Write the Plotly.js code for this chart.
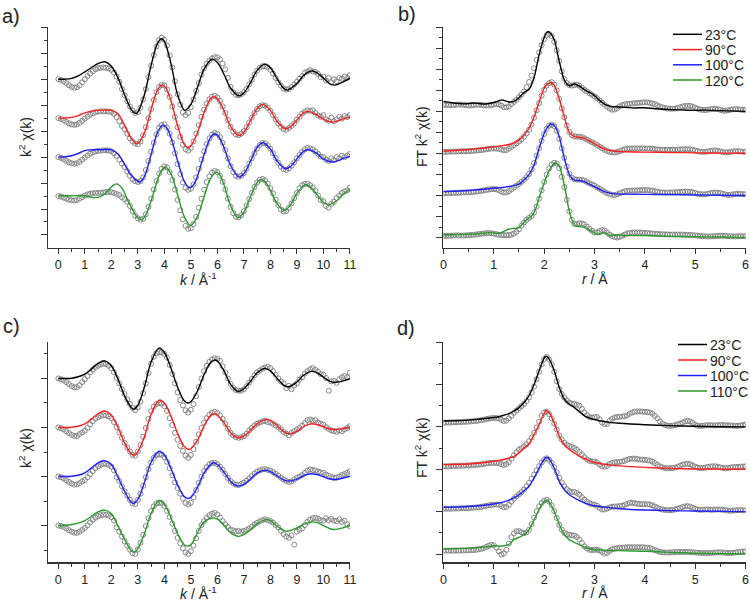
<!DOCTYPE html>
<html>
<head>
<meta charset="utf-8">
<script src="https://cdn.plot.ly/plotly-3.0.1.min.js"></script>
<style>
html,body{margin:0;padding:0;background:#fff;}
#chart{width:750px;height:602px;}
</style>
</head>
<body>
<div id="chart"></div>
<script>
// ---------- labels ----------
const labelsTop = ['23°C', '90°C', '100°C', '120°C'];
const labelsBottom = ['23°C', '90°C', '100°C', '110°C'];

// vertical stacking of the four temperatures in each panel (axis units)
const stackA = [6, 4.5, 3, 1.5];
const stackB = [12, 8, 4, 0];
const stackC = [7, 5, 3, 1];
const stackD = [6, 4, 2, 0];

// measured k2*chi(k), sampled every 0.1 A^-1 from k = 0 to 11
const aData23 = [
 0,-0.03,-0.08,-0.15,-0.23,-0.3,-0.33,-0.31,-0.24,-0.12,
 0,0.12,0.22,0.31,0.38,0.42,0.44,0.45,0.44,0.41,
 0.36,0.25,0.1,-0.1,-0.38,-0.62,-0.85,-1.05,-1.2,-1.3,
 -1.27,-1.1,-0.78,-0.38,0.08,0.52,0.93,1.26,1.5,1.6,
 1.52,1.3,0.92,0.45,-0.08,-0.58,-0.98,-1.27,-1.38,-1.3,
 -1.08,-0.78,-0.45,-0.15,0.18,0.42,0.6,0.72,0.8,0.85,
 0.84,0.76,0.6,0.38,0.05,-0.3,-0.5,-0.6,-0.62,-0.58,
 -0.5,-0.38,-0.2,-0.02,0.18,0.33,0.44,0.5,0.5,0.46,
 0.36,0.22,0.05,-0.12,-0.25,-0.36,-0.4,-0.38,-0.3,-0.2,
 -0.1,0.02,0.12,0.25,0.3,0.35,0.3,0.28,0.2,0.08,
 0.1,-0.05,0.05,-0.12,0,-0.08,0.05,0.02,0.1,0.05,
 0.15];
const aData90 = [
 0,-0.03,-0.08,-0.14,-0.2,-0.24,-0.26,-0.24,-0.18,-0.1,
 -0.02,0.06,0.13,0.19,0.23,0.25,0.26,0.26,0.26,0.25,
 0.24,0.16,0.04,-0.12,-0.3,-0.42,-0.6,-0.78,-0.9,-0.98,
 -1,-0.9,-0.66,-0.35,0,0.35,0.7,1,1.2,1.28,
 1.26,1.1,0.82,0.45,0.05,-0.35,-0.72,-1.02,-1.2,-1.25,
 -1.15,-0.9,-0.6,-0.27,0.05,0.33,0.56,0.73,0.83,0.86,
 0.8,0.66,0.45,0.2,-0.07,-0.33,-0.52,-0.63,-0.66,-0.6,
 -0.5,-0.35,-0.17,0.02,0.2,0.35,0.46,0.5,0.48,0.4,
 0.28,0.12,-0.05,-0.2,-0.33,-0.42,-0.45,-0.38,-0.3,-0.2,
 -0.06,0.05,0.18,0.25,0.3,0.28,0.3,0.2,0.1,0.05,
 0.12,-0.05,-0.1,0.02,-0.12,-0.05,0.05,-0.02,0.08,0.04,
 0.12];
const aData100 = [
 0,-0.03,-0.08,-0.14,-0.2,-0.24,-0.26,-0.24,-0.18,-0.1,
 -0.02,0.06,0.13,0.18,0.22,0.24,0.25,0.26,0.26,0.25,
 0.23,0.15,0.04,-0.1,-0.25,-0.38,-0.55,-0.72,-0.85,-0.93,
 -0.96,-0.93,-0.78,-0.5,-0.15,0.2,0.55,0.88,1.12,1.24,
 1.26,1.14,0.9,0.56,0.15,-0.27,-0.65,-0.98,-1.18,-1.26,
 -1.22,-1.05,-0.78,-0.45,-0.1,0.22,0.5,0.72,0.87,0.93,
 0.9,0.77,0.55,0.27,-0.05,-0.35,-0.58,-0.72,-0.76,-0.72,
 -0.62,-0.45,-0.25,-0.05,0.15,0.33,0.47,0.54,0.53,0.45,
 0.32,0.15,-0.04,-0.22,-0.37,-0.47,-0.5,-0.44,-0.33,-0.2,
 -0.05,0.08,0.2,0.3,0.35,0.33,0.3,0.22,0.12,0.02,
 0,-0.1,-0.15,-0.05,-0.12,0,-0.05,0.05,0,0.06,
 0.12];
const aData120 = [
 0,-0.02,-0.06,-0.1,-0.14,-0.16,-0.17,-0.15,-0.1,-0.04,
 0.02,0.06,0.09,0.11,0.12,0.12,0.13,0.14,0.15,0.16,
 0.15,0.12,0.08,0.04,-0.05,-0.12,-0.22,-0.38,-0.58,-0.75,
 -0.86,-0.91,-0.88,-0.7,-0.42,-0.1,0.25,0.58,0.86,1.05,
 1.14,1.1,0.92,0.62,0.25,-0.15,-0.55,-0.9,-1.15,-1.26,
 -1.24,-1.08,-0.8,-0.45,-0.1,0.25,0.54,0.76,0.9,0.96,
 0.92,0.78,0.55,0.25,-0.1,-0.42,-0.66,-0.8,-0.82,-0.74,
 -0.58,-0.36,-0.12,0.12,0.35,0.52,0.63,0.66,0.6,0.48,
 0.3,0.1,-0.14,-0.35,-0.52,-0.6,-0.58,-0.45,-0.28,-0.08,
 0.12,0.3,0.42,0.46,0.48,0.42,0.33,0.2,0.02,-0.15,
 -0.2,-0.38,-0.45,-0.3,-0.22,-0.08,0.02,0.12,0.18,0.22,
 0.32];

const cData23 = [
 0,-0.03,-0.08,-0.15,-0.23,-0.31,-0.36,-0.36,-0.28,-0.15,
 -0.03,0.1,0.25,0.36,0.46,0.52,0.57,0.6,0.59,0.52,
 0.42,0.25,0.02,-0.2,-0.43,-0.64,-0.85,-1.04,-1.2,-1.29,
 -1.18,-0.95,-0.6,-0.2,0.22,0.6,0.88,1.03,1.07,1.07,
 1,0.85,0.55,0.18,-0.2,-0.57,-0.88,-1.1,-1.3,-1.39,
 -1.28,-1.05,-0.72,-0.35,0,0.3,0.52,0.68,0.78,0.83,
 0.8,0.72,0.5,0.25,0,-0.22,-0.38,-0.47,-0.5,-0.5,
 -0.44,-0.32,-0.17,-0.02,0.13,0.25,0.33,0.4,0.45,0.48,
 0.42,0.3,0.15,0,-0.12,-0.2,-0.4,-0.3,-0.44,-0.28,
 -0.2,-0.05,0.05,0.2,0.3,0.38,0.42,0.35,0.28,0.18,
 0.15,0.02,-0.5,-0.12,-0.1,-0.18,-0.03,0.05,0.1,0.05,
 0.24];
const cData90 = [
 0,-0.03,-0.08,-0.15,-0.23,-0.3,-0.35,-0.34,-0.27,-0.2,
 -0.13,-0.02,0.13,0.25,0.36,0.42,0.47,0.5,0.49,0.45,
 0.38,0.22,0.02,-0.2,-0.42,-0.63,-0.82,-0.98,-1.12,-1.15,
 -0.98,-0.72,-0.38,-0.02,0.35,0.66,0.85,0.96,0.99,0.97,
 0.87,0.68,0.38,0.1,-0.22,-0.5,-0.75,-0.95,-1.15,-1.24,
 -1.12,-0.88,-0.58,-0.28,-0.02,0.2,0.38,0.52,0.6,0.64,
 0.6,0.5,0.35,0.15,-0.05,-0.22,-0.33,-0.4,-0.42,-0.4,
 -0.35,-0.25,-0.12,-0.02,0.08,0.15,0.2,0.25,0.27,0.22,
 0.2,0.15,0.08,0.02,-0.08,-0.18,-0.25,-0.32,-0.22,-0.15,
 -0.08,-0.02,0.08,0.18,0.3,0.33,0.28,0.3,0.2,0.15,
 0.12,0.02,-0.06,-0.12,-0.15,-0.18,-0.12,-0.15,-0.08,-0.02,
 0.05];
const cData100 = [
 0,-0.03,-0.08,-0.15,-0.22,-0.28,-0.33,-0.32,-0.27,-0.2,
 -0.14,-0.03,0.1,0.22,0.34,0.42,0.48,0.52,0.51,0.47,
 0.4,0.25,-0.03,-0.18,-0.4,-0.6,-0.78,-0.95,-1.1,-1.12,
 -0.95,-0.7,-0.38,-0.03,0.3,0.57,0.76,0.87,0.9,0.89,
 0.79,0.6,0.34,0.05,-0.24,-0.47,-0.7,-0.9,-1.08,-1.14,
 -1.07,-0.85,-0.55,-0.25,0,0.22,0.38,0.5,0.55,0.56,
 0.5,0.4,0.27,0.1,-0.06,-0.19,-0.28,-0.33,-0.35,-0.3,
 -0.25,-0.17,-0.08,0.02,0.12,0.2,0.25,0.29,0.3,0.27,
 0.24,0.18,0.11,0.04,-0.05,-0.12,-0.18,-0.22,-0.2,-0.12,
 -0.05,0,0.06,0.15,0.24,0.29,0.26,0.25,0.2,0.17,
 0.15,0.08,0.03,-0.02,-0.05,-0.05,0,0.06,0.1,0.15,
 0.22];
const cData110 = [
 0,-0.02,-0.06,-0.12,-0.19,-0.25,-0.29,-0.3,-0.25,-0.18,
 -0.1,0,0.13,0.23,0.32,0.38,0.42,0.45,0.44,0.4,
 0.34,0.2,-0.07,-0.25,-0.45,-0.64,-0.82,-0.98,-1.13,-1.16,
 -0.98,-0.7,-0.38,-0.02,0.3,0.59,0.78,0.9,0.93,0.92,
 0.79,0.6,0.35,0.08,-0.22,-0.5,-0.73,-0.93,-1.1,-1.16,
 -1.05,-0.82,-0.52,-0.22,0.02,0.18,0.32,0.42,0.48,0.52,
 0.45,0.33,0.18,0.05,-0.06,-0.16,-0.2,-0.24,-0.22,-0.25,
 -0.22,-0.18,-0.12,-0.05,0.05,0.11,0.17,0.22,0.25,0.22,
 0.18,0.12,0.02,-0.08,-0.22,-0.35,-0.45,-0.5,-0.4,-0.78,
 -0.25,-0.18,-0.12,0.02,0.15,0.24,0.3,0.32,0.28,0.22,
 0.2,0.3,0.22,0.27,0.2,0.18,0.25,0.15,0.2,0.05,
 -0.03];

// fitted k2*chi(k) curves as [k, value] pairs
const aFit23 = [[0,0],[0.25,0],[0.5,0.03],[0.75,0.13],[1,0.28],[1.25,0.45],[1.5,0.6],[1.75,0.67],[2,0.5],[2.25,0.05],[2.5,-0.6],[2.75,-1.16],[2.92,-1.32],[3,-1.27],[3.25,-0.59],[3.5,0.53],[3.75,1.4],[3.9,1.56],[4,1.47],[4.25,0.6],[4.5,-0.6],[4.77,-1.2],[5,-0.97],[5.25,-0.32],[5.5,0.39],[5.8,0.77],[6,0.64],[6.25,0.19],[6.5,-0.34],[6.81,-0.64],[7,-0.53],[7.25,-0.13],[7.5,0.34],[7.79,0.58],[8,0.44],[8.25,0.02],[8.5,-0.35],[8.64,-0.42],[9,-0.17],[9.25,0.14],[9.55,0.32],[9.75,0.25],[10,0.04],[10.25,-0.18],[10.43,-0.23],[10.75,-0.1],[11,0.04]];
const aFit90 = [[0,0],[0.25,0.01],[0.5,0.03],[0.75,0.1],[1,0.2],[1.25,0.27],[1.5,0.3],[1.75,0.31],[2,0.3],[2.25,0.17],[2.5,-0.28],[2.75,-0.78],[2.98,-0.99],[3.25,-0.56],[3.5,0.33],[3.75,1.1],[3.92,1.28],[4.05,1.18],[4.25,0.66],[4.5,-0.29],[4.75,-1.01],[4.89,-1.13],[5,-1.07],[5.25,-0.55],[5.5,0.22],[5.75,0.76],[5.87,0.83],[6,0.76],[6.25,0.29],[6.5,-0.32],[6.8,-0.67],[7,-0.54],[7.25,-0.09],[7.5,0.37],[7.72,0.53],[8,0.3],[8.25,-0.12],[8.57,-0.41],[8.75,-0.34],[9,-0.07],[9.25,0.2],[9.42,0.26],[9.75,0.13],[10,-0.04],[10.3,-0.15],[10.5,-0.12],[10.75,-0.03],[11,0.03]];
const aFit100 = [[0,0],[0.25,0.01],[0.5,0.05],[0.75,0.14],[1,0.25],[1.25,0.28],[1.5,0.28],[1.75,0.29],[2,0.28],[2.25,0.12],[2.5,-0.28],[2.75,-0.7],[3.07,-0.96],[3.25,-0.74],[3.5,0.1],[3.75,0.97],[3.95,1.24],[4.1,1.11],[4.25,0.75],[4.5,-0.14],[4.75,-0.93],[4.96,-1.18],[5.1,-1.07],[5.25,-0.73],[5.5,0.1],[5.75,0.77],[5.9,0.9],[6.05,0.79],[6.25,0.37],[6.5,-0.32],[6.82,-0.77],[7,-0.64],[7.25,-0.16],[7.5,0.37],[7.72,0.55],[8,0.31],[8.25,-0.14],[8.57,-0.45],[8.75,-0.37],[9,-0.07],[9.25,0.22],[9.42,0.29],[9.75,0.14],[10,-0.07],[10.3,-0.19],[10.5,-0.15],[10.75,-0.05],[11,0.03]];
const aFit120 = [[0,0],[0.25,0.01],[0.5,0.01],[0.75,0.02],[1,0.01],[1.25,-0.05],[1.5,-0.05],[1.75,0.08],[2,0.35],[2.19,0.47],[2.4,0.31],[2.6,-0.12],[2.75,-0.43],[3,-0.85],[3.13,-0.91],[3.25,-0.82],[3.5,-0.19],[3.75,0.65],[3.9,1],[4.04,1.12],[4.25,0.86],[4.5,0.05],[4.75,-0.79],[4.99,-1.13],[5.25,-0.79],[5.5,-0.02],[5.75,0.69],[5.96,0.92],[6.1,0.8],[6.25,0.43],[6.5,-0.37],[6.78,-0.83],[7,-0.62],[7.25,-0.02],[7.5,0.51],[7.66,0.63],[7.8,0.55],[8,0.23],[8.25,-0.29],[8.52,-0.55],[8.75,-0.36],[9,0.1],[9.32,0.44],[9.5,0.36],[9.75,0.07],[10,-0.24],[10.2,-0.33],[10.5,-0.18],[10.75,0.07],[11,0.25]];

const cFit23 = [[0,0],[0.25,0],[0.5,0.01],[0.75,0.07],[1,0.18],[1.25,0.38],[1.5,0.61],[1.75,0.72],[2,0.52],[2.25,-0.03],[2.5,-0.71],[2.75,-1.18],[2.86,-1.25],[3,-1.1],[3.25,-0.34],[3.5,0.67],[3.8,1.24],[4,1.06],[4.25,0.42],[4.5,-0.36],[4.75,-0.91],[4.89,-1],[5,-0.95],[5.25,-0.51],[5.5,0.16],[5.75,0.66],[5.9,0.75],[6,0.71],[6.25,0.31],[6.5,-0.24],[6.78,-0.53],[7,-0.42],[7.25,-0.11],[7.5,0.23],[7.79,0.41],[8,0.31],[8.25,0.01],[8.5,-0.27],[8.67,-0.34],[9,-0.15],[9.25,0.13],[9.55,0.29],[9.75,0.24],[10,0.06],[10.25,-0.12],[10.43,-0.16],[10.75,-0.1],[11,-0.01]];
const cFit90 = [[0,0],[0.25,0],[0.5,0.01],[0.75,0.05],[1,0.15],[1.25,0.35],[1.5,0.56],[1.75,0.67],[2,0.5],[2.25,0],[2.5,-0.63],[2.75,-1.07],[2.88,-1.13],[3,-0.99],[3.25,-0.37],[3.5,0.54],[3.82,1.12],[4,0.99],[4.25,0.46],[4.5,-0.24],[4.75,-0.77],[4.93,-0.9],[5.25,-0.52],[5.5,0.07],[5.75,0.5],[5.87,0.56],[6,0.51],[6.25,0.2],[6.5,-0.21],[6.78,-0.42],[7,-0.35],[7.25,-0.12],[7.5,0.15],[7.85,0.33],[8,0.29],[8.25,0.08],[8.5,-0.17],[8.73,-0.26],[9,-0.16],[9.25,0.03],[9.55,0.15],[9.75,0.12],[10,0.03],[10.25,-0.06],[10.43,-0.08],[10.75,-0.04],[11,0.01]];
const cFit100 = [[0,0],[0.25,0],[0.5,0.01],[0.75,0.05],[1,0.15],[1.25,0.35],[1.5,0.56],[1.75,0.65],[2,0.49],[2.25,-0.03],[2.5,-0.6],[2.7,-0.98],[2.82,-1.1],[3,-0.93],[3.25,-0.24],[3.5,0.58],[3.8,1.03],[4,0.88],[4.25,0.33],[4.5,-0.35],[4.75,-0.82],[4.89,-0.9],[5,-0.85],[5.25,-0.44],[5.5,0.15],[5.84,0.56],[6,0.49],[6.25,0.18],[6.5,-0.2],[6.78,-0.39],[7,-0.32],[7.25,-0.1],[7.5,0.14],[7.79,0.26],[8,0.2],[8.25,0.03],[8.5,-0.14],[8.7,-0.19],[9,-0.11],[9.25,0.03],[9.55,0.11],[9.75,0.08],[10,-0.01],[10.25,-0.1],[10.43,-0.12],[10.75,-0.06],[11,0.01]];
const cFit110 = [[0,0],[0.25,0.01],[0.5,0.04],[0.75,0.1],[1,0.2],[1.25,0.38],[1.5,0.56],[1.75,0.63],[2,0.48],[2.25,-0.03],[2.5,-0.57],[2.75,-1.02],[2.86,-1.09],[3,-0.94],[3.25,-0.32],[3.5,0.49],[3.8,1.02],[4,0.87],[4.25,0.32],[4.5,-0.34],[4.75,-0.78],[4.87,-0.84],[5,-0.79],[5.25,-0.3],[5.5,0.15],[5.84,0.31],[6,0.26],[6.25,0.01],[6.5,-0.29],[6.78,-0.44],[7,-0.37],[7.25,-0.17],[7.5,0.08],[7.85,0.24],[8,0.2],[8.25,-0.02],[8.6,-0.23],[9,-0.1],[9.25,0.05],[9.6,0.15],[9.75,0.13],[10,0],[10.25,-0.13],[10.43,-0.16],[10.75,-0.09],[11,0]];

// measured FT magnitude, sampled every 0.05 A from r = 0 to 6
const bData23 = [
 0.63,0.62,0.6,0.58,0.6,0.63,0.66,0.65,0.62,0.58,
 0.56,0.57,0.6,0.63,0.64,0.62,0.58,0.56,0.57,0.6,
 0.65,0.7,0.68,0.55,0.4,0.38,0.48,0.7,0.9,1.1,
 1.35,1.6,1.9,2.3,2.8,3.4,4.1,4.9,5.6,6.3,
 6.85,7.25,7.35,7.15,6.6,5.8,4.8,3.8,3.1,2.7,
 2.5,2.45,2.5,2.55,2.45,2.25,2.05,1.9,1.72,1.58,
 1.43,1.25,1.05,0.82,0.63,0.45,0.28,0.16,0.18,0.3,
 0.48,0.6,0.66,0.7,0.72,0.75,0.78,0.8,0.82,0.84,
 0.86,0.86,0.82,0.76,0.68,0.58,0.46,0.38,0.32,0.28,
 0.26,0.25,0.27,0.32,0.4,0.47,0.52,0.54,0.52,0.45,
 0.35,0.25,0.18,0.14,0.13,0.16,0.2,0.24,0.25,0.22,
 0.15,0.08,0.06,0.1,0.16,0.2,0.22,0.2,0.17,0.14,
 0.13];
const bData90 = [
 0.16,0.16,0.17,0.18,0.18,0.19,0.2,0.21,0.21,0.22,
 0.22,0.24,0.26,0.28,0.3,0.33,0.36,0.4,0.44,0.47,
 0.48,0.47,0.44,0.37,0.32,0.33,0.45,0.62,0.8,0.96,
 1.15,1.35,1.6,1.9,2.25,2.75,3.4,4.1,4.8,5.5,
 6.05,6.45,6.7,6.78,6.55,6,5.2,4.3,3.45,2.65,
 2.05,1.75,1.62,1.6,1.6,1.55,1.45,1.33,1.2,1.08,
 0.95,0.8,0.65,0.5,0.35,0.24,0.16,0.11,0.1,0.14,
 0.22,0.32,0.4,0.45,0.47,0.48,0.48,0.48,0.48,0.48,
 0.48,0.48,0.47,0.45,0.42,0.39,0.37,0.35,0.35,0.35,
 0.35,0.36,0.37,0.38,0.39,0.4,0.41,0.41,0.4,0.35,
 0.28,0.22,0.17,0.15,0.16,0.2,0.25,0.28,0.29,0.26,
 0.2,0.14,0.1,0.11,0.15,0.2,0.22,0.22,0.2,0.17,
 0.16];
const bData100 = [
 0.22,0.22,0.23,0.24,0.25,0.26,0.27,0.28,0.29,0.3,
 0.31,0.33,0.35,0.38,0.41,0.45,0.49,0.53,0.58,0.61,
 0.63,0.6,0.52,0.4,0.3,0.3,0.42,0.6,0.78,0.95,
 1.1,1.3,1.5,1.75,2.05,2.5,3.1,3.8,4.5,5.2,
 5.85,6.35,6.65,6.75,6.6,6.15,5.4,4.5,3.6,2.75,
 2.1,1.72,1.55,1.52,1.52,1.5,1.42,1.3,1.18,1.06,
 0.95,0.8,0.65,0.5,0.36,0.24,0.14,0.08,0.06,0.12,
 0.22,0.32,0.4,0.45,0.47,0.48,0.49,0.5,0.51,0.52,
 0.52,0.52,0.5,0.46,0.41,0.36,0.32,0.3,0.29,0.29,
 0.29,0.3,0.31,0.33,0.35,0.37,0.38,0.38,0.37,0.32,
 0.25,0.18,0.14,0.12,0.13,0.18,0.24,0.28,0.29,0.28,
 0.24,0.17,0.1,0.07,0.08,0.12,0.16,0.17,0.16,0.14,
 0.13];
const bData120 = [
 0.19,0.18,0.18,0.19,0.21,0.22,0.22,0.21,0.21,0.22,
 0.24,0.26,0.28,0.31,0.34,0.37,0.4,0.43,0.44,0.42,
 0.38,0.33,0.28,0.25,0.24,0.24,0.25,0.3,0.4,0.55,
 0.8,1.15,1.45,1.7,1.88,2.05,2.4,2.95,3.7,4.5,
 5.3,6,6.6,6.95,7.12,7.05,6.6,5.8,4.8,3.6,
 2.5,1.7,1.3,1.3,1.38,1.35,1.25,1.05,0.85,0.65,
 0.5,0.5,0.62,0.72,0.68,0.5,0.3,0.15,0.05,0.02,
 0.08,0.18,0.3,0.4,0.45,0.48,0.5,0.5,0.5,0.48,
 0.46,0.44,0.42,0.4,0.38,0.36,0.34,0.33,0.32,0.31,
 0.3,0.3,0.3,0.3,0.3,0.29,0.28,0.27,0.26,0.24,
 0.22,0.19,0.16,0.14,0.13,0.12,0.12,0.13,0.15,0.17,
 0.18,0.18,0.17,0.15,0.13,0.12,0.12,0.13,0.14,0.14,
 0.13];

const dData23 = [
 0.2,0.2,0.21,0.21,0.22,0.22,0.23,0.23,0.24,0.24,
 0.25,0.26,0.27,0.28,0.3,0.32,0.34,0.37,0.39,0.41,
 0.42,0.42,0.4,0.33,0.28,0.3,0.4,0.53,0.66,0.77,
 0.88,0.98,1.08,1.22,1.39,1.62,1.9,2.25,2.6,2.95,
 3.2,3.3,3.18,2.95,2.6,2.15,1.78,1.55,1.39,1.25,
 1.15,1.1,1.08,1.05,1,0.85,0.68,0.55,0.46,0.44,
 0.46,0.46,0.36,0.2,0.14,0.14,0.28,0.38,0.44,0.47,
 0.48,0.49,0.5,0.55,0.62,0.68,0.72,0.73,0.73,0.72,
 0.71,0.7,0.68,0.62,0.52,0.4,0.26,0.16,0.09,0.06,
 0.05,0.06,0.08,0.12,0.16,0.21,0.26,0.28,0.26,0.19,
 0.1,0.05,0.04,0.05,0.07,0.08,0.08,0.07,0.07,0.08,
 0.09,0.09,0.08,0.07,0.07,0.06,0.05,0.05,0.07,0.09,
 0.1];
const dData90 = [
 0.14,0.14,0.14,0.15,0.15,0.16,0.16,0.17,0.17,0.18,
 0.18,0.19,0.2,0.21,0.22,0.23,0.25,0.27,0.29,0.3,
 0.3,0.3,0.29,0.24,0.2,0.24,0.34,0.5,0.66,0.8,
 0.92,1,1.08,1.18,1.32,1.5,1.72,1.98,2.25,2.52,
 2.68,2.72,2.6,2.4,2.15,1.88,1.6,1.4,1.25,1.15,
 1.09,1.05,1,0.92,0.82,0.7,0.57,0.47,0.4,0.37,
 0.36,0.32,0.22,0.14,0.12,0.16,0.25,0.3,0.33,0.34,
 0.35,0.37,0.4,0.45,0.49,0.5,0.5,0.48,0.46,0.45,
 0.44,0.43,0.41,0.36,0.29,0.21,0.14,0.09,0.06,0.05,
 0.05,0.06,0.08,0.12,0.17,0.22,0.25,0.26,0.24,0.18,
 0.12,0.08,0.06,0.06,0.08,0.11,0.13,0.14,0.14,0.12,
 0.09,0.06,0.05,0.06,0.08,0.1,0.11,0.11,0.12,0.13,
 0.14];
const dData100 = [
 0.14,0.14,0.14,0.14,0.15,0.15,0.15,0.16,0.16,0.17,
 0.17,0.18,0.19,0.2,0.21,0.23,0.25,0.28,0.3,0.32,
 0.33,0.34,0.33,0.27,0.21,0.22,0.33,0.47,0.61,0.72,
 0.82,0.92,1.04,1.2,1.36,1.55,1.75,1.95,2.14,2.32,
 2.46,2.52,2.45,2.3,2.1,1.86,1.6,1.38,1.2,1.06,
 0.97,0.93,0.93,0.88,0.8,0.68,0.57,0.47,0.4,0.35,
 0.33,0.28,0.18,0.1,0.1,0.15,0.2,0.23,0.24,0.25,
 0.26,0.28,0.32,0.37,0.41,0.42,0.4,0.37,0.36,0.35,
 0.35,0.35,0.34,0.3,0.24,0.18,0.13,0.1,0.08,0.07,
 0.07,0.08,0.1,0.14,0.18,0.22,0.25,0.26,0.24,0.18,
 0.13,0.1,0.09,0.09,0.1,0.1,0.09,0.09,0.1,0.1,
 0.1,0.09,0.07,0.05,0.04,0.05,0.06,0.07,0.07,0.06,
 0.06];
const dData110 = [
 0.16,0.16,0.16,0.16,0.16,0.16,0.16,0.17,0.17,0.17,
 0.18,0.18,0.19,0.2,0.22,0.25,0.28,0.33,0.39,0.44,
 0.42,0.3,0.12,-0.03,0.02,0.2,0.5,0.8,0.98,1.07,
 1.08,1.03,0.98,1.02,1.15,1.42,1.72,2.02,2.25,2.41,
 2.52,2.56,2.48,2.3,2.02,1.7,1.38,1.15,1,0.94,
 0.91,0.89,0.87,0.8,0.68,0.52,0.36,0.26,0.2,0.19,
 0.2,0.2,0.17,0.1,0.02,0.05,0.15,0.22,0.26,0.28,
 0.29,0.3,0.31,0.32,0.32,0.32,0.32,0.32,0.32,0.32,
 0.31,0.3,0.28,0.24,0.19,0.14,0.1,0.08,0.07,0.07,
 0.08,0.08,0.09,0.09,0.1,0.1,0.1,0.1,0.09,0.08,
 0.07,0.06,0.05,0.05,0.05,0.05,0.05,0.06,0.07,0.08,
 0.08,0.07,0.06,0.05,0.05,0.06,0.07,0.09,0.11,0.12,
 0.13];

// fitted FT magnitude as [r, value] pairs
const bFit23 = [[0,0.95],[0.1,0.88],[0.2,0.8],[0.3,0.75],[0.4,0.72],[0.5,0.75],[0.6,0.8],[0.7,0.75],[0.8,0.7],[0.9,0.75],[1,0.85],[1.1,1],[1.15,1.1],[1.2,1.05],[1.3,0.9],[1.4,0.95],[1.5,1.3],[1.6,1.8],[1.7,2.1],[1.8,3.2],[1.9,5.4],[2,7],[2.06,7.56],[2.12,7.45],[2.2,6.8],[2.3,4.76],[2.4,3],[2.5,2.44],[2.6,2.6],[2.7,2.4],[2.8,2.06],[2.9,1.8],[3,1.5],[3.1,1.05],[3.2,0.7],[3.3,0.5],[3.4,0.45],[3.6,0.38],[3.8,0.33],[4,0.35],[4.2,0.25],[4.4,0.2],[4.7,0.15],[5,0.1],[5.2,0.12],[5.5,0.07],[6,0]];
const bFit90 = [[0,0.22],[0.2,0.28],[0.4,0.34],[0.6,0.42],[0.8,0.52],[1,0.63],[1.1,0.7],[1.2,0.77],[1.3,0.86],[1.4,1.02],[1.5,1.27],[1.6,1.75],[1.7,2.4],[1.8,3.5],[1.9,4.9],[2,6.2],[2.07,6.62],[2.14,6.75],[2.2,6.5],[2.3,5.2],[2.4,3.5],[2.5,2],[2.6,1.6],[2.7,1.55],[2.8,1.43],[2.9,1.2],[3,0.92],[3.1,0.65],[3.2,0.41],[3.3,0.28],[3.4,0.22],[3.6,0.17],[4,0.13],[4.5,0.1],[5,0.06],[5.5,0.04],[6,0.02]];
const bFit100 = [[0,0.38],[0.2,0.42],[0.4,0.46],[0.6,0.52],[0.8,0.6],[1,0.7],[1.1,0.75],[1.2,0.8],[1.3,0.86],[1.4,0.95],[1.5,1.08],[1.6,1.5],[1.7,2],[1.8,2.9],[1.9,4.5],[2,5.9],[2.08,6.6],[2.15,6.8],[2.22,6.55],[2.3,5.6],[2.4,3.56],[2.5,2],[2.6,1.46],[2.7,1.43],[2.8,1.33],[2.9,1.08],[3,0.86],[3.1,0.6],[3.2,0.38],[3.3,0.24],[3.4,0.16],[3.6,0.14],[4,0.12],[4.5,0.1],[5,0.06],[5.5,0.04],[6,0.01]];
const bFit120 = [[0,0.25],[0.2,0.28],[0.4,0.3],[0.6,0.34],[0.8,0.42],[0.9,0.48],[1,0.45],[1.1,0.4],[1.2,0.6],[1.3,0.83],[1.4,0.88],[1.5,0.95],[1.55,1.2],[1.6,1.5],[1.7,1.9],[1.75,2.05],[1.8,2.4],[1.85,3],[1.9,3.8],[2,5.2],[2.1,6.4],[2.22,7.1],[2.3,6.8],[2.4,5],[2.5,2.5],[2.6,1.2],[2.7,1.05],[2.8,1],[2.9,0.73],[3,0.45],[3.1,0.3],[3.2,0.5],[3.3,0.2],[3.4,0.25],[3.5,0.28],[3.6,0.22],[3.8,0.2],[4,0.2],[4.2,0.18],[4.5,0.13],[5,0.1],[5.5,0.06],[6,0.03]];

const dFit23 = [[0,0.28],[0.5,0.32],[1,0.44],[1.1,0.48],[1.2,0.55],[1.3,0.63],[1.4,0.75],[1.5,0.91],[1.6,1.15],[1.7,1.47],[1.8,2],[1.9,2.65],[2,3.25],[2.04,3.33],[2.1,3.2],[2.2,2.65],[2.3,1.86],[2.4,1.31],[2.5,1.07],[2.6,0.91],[2.7,0.72],[2.8,0.52],[2.9,0.42],[3,0.34],[3.2,0.25],[3.5,0.17],[4,0.1],[4.5,0.06],[5,0.03],[5.5,0.01],[6,0]];
const dFit90 = [[0,0.22],[0.5,0.25],[1,0.38],[1.2,0.46],[1.4,0.61],[1.5,0.77],[1.6,1],[1.7,1.2],[1.8,1.64],[1.9,2.11],[1.97,2.5],[2.04,2.77],[2.1,2.66],[2.2,2.19],[2.3,1.56],[2.4,1.17],[2.5,0.93],[2.6,0.77],[2.7,0.61],[2.8,0.5],[2.9,0.41],[3,0.33],[3.25,0.22],[3.5,0.16],[4,0.09],[4.5,0.04],[5,0.01],[6,0]];
const dFit100 = [[0,0.2],[0.5,0.24],[1,0.36],[1.2,0.46],[1.4,0.65],[1.5,0.8],[1.6,0.99],[1.7,1.2],[1.8,1.59],[1.9,2.06],[1.98,2.4],[2.05,2.57],[2.1,2.5],[2.2,2.06],[2.3,1.43],[2.4,1.04],[2.5,0.8],[2.6,0.65],[2.7,0.52],[2.8,0.41],[2.9,0.33],[3,0.28],[3.25,0.2],[3.5,0.14],[4,0.08],[4.5,0.05],[5,0.03],[6,0]];
const dFit110 = [[0,0.24],[0.25,0.26],[0.5,0.28],[0.75,0.32],[0.9,0.35],[1,0.4],[1.1,0.37],[1.2,0.39],[1.3,0.45],[1.4,0.68],[1.5,0.79],[1.6,0.91],[1.7,1.15],[1.8,1.62],[1.9,2.1],[1.97,2.4],[2.04,2.54],[2.1,2.46],[2.2,2.02],[2.3,1.39],[2.4,0.91],[2.5,0.68],[2.6,0.55],[2.7,0.44],[2.8,0.32],[2.9,0.25],[3,0.2],[3.25,0.18],[3.5,0.16],[4,0.13],[4.5,0.08],[5,0.04],[6,0]];

// ---------- drawing ----------
const FONT = 'Liberation Sans, Arial, Helvetica, sans-serif';
const W = 750, H = 602;
const LINE_COLORS = ['#000000', '#ff1f1f', '#1f1fff', '#2a9a2a'];
const DOT_COLOR = '#7a7a7a';
const AXIS_COLOR = '#333333';
const px = v => v / W;
const py = v => 1 - v / H;

// sample positions of the measured curves
const samplePositions = (n, step) => Array.from({length: n}, (_, i) => +(i * step).toFixed(2));
const kSamples = samplePositions(aData23.length, 0.1);
const rSamples = samplePositions(bData23.length, 0.05);

const panels = [
  {xa: 'x',  ya: 'y',  xs: kSamples, data: [aData23, aData90, aData100, aData120], fits: [aFit23, aFit90, aFit100, aFit120], stack: stackA, smooth: 1.0},
  {xa: 'x2', ya: 'y2', xs: rSamples, data: [bData23, bData90, bData100, bData120], fits: [bFit23, bFit90, bFit100, bFit120], stack: stackB, smooth: 0.7},
  {xa: 'x3', ya: 'y3', xs: kSamples, data: [cData23, cData90, cData100, cData110], fits: [cFit23, cFit90, cFit100, cFit110], stack: stackC, smooth: 1.0},
  {xa: 'x4', ya: 'y4', xs: rSamples, data: [dData23, dData90, dData100, dData110], fits: [dFit23, dFit90, dFit100, dFit110], stack: stackD, smooth: 0.7}
];

const traces = [];
panels.forEach(p => {
  p.data.forEach((vals, i) => {
    traces.push({
      type: 'scatter', mode: 'markers', xaxis: p.xa, yaxis: p.ya, showlegend: false,
      x: p.xs, y: vals.map(v => v + p.stack[i]),
      marker: {symbol: 'circle-open', size: 5, color: DOT_COLOR, line: {width: 0.9, color: DOT_COLOR}},
      hoverinfo: 'skip'
    });
  });
  p.fits.forEach((pts, i) => {
    traces.push({
      type: 'scatter', mode: 'lines', xaxis: p.xa, yaxis: p.ya, showlegend: false,
      x: pts.map(q => q[0]), y: pts.map(q => q[1] + p.stack[i]),
      line: {color: LINE_COLORS[i], width: 1.4, shape: 'spline', smoothing: p.smooth},
      hoverinfo: 'skip'
    });
  });
});

function xAxis(domain, range, anchor) {
  return {
    domain, range, anchor, tickmode: 'linear', tick0: 0, dtick: 1,
    ticks: 'outside', ticklen: 5, tickwidth: 1, tickcolor: AXIS_COLOR,
    minor: {tick0: 0, dtick: 0.5, ticks: 'outside', ticklen: 3, tickwidth: 1, tickcolor: AXIS_COLOR},
    showline: true, linecolor: AXIS_COLOR, linewidth: 1.2,
    showgrid: false, zeroline: false,
    tickfont: {family: FONT, size: 12.5, color: '#222'}
  };
}
function yAxis(domain, range, anchor, tick0, dtick, minorDtick) {
  return {
    domain, range, anchor, tickmode: 'linear', tick0, dtick,
    ticks: 'outside', ticklen: 6, tickwidth: 1, tickcolor: AXIS_COLOR,
    minor: {tick0: 0, dtick: minorDtick, ticks: 'outside', ticklen: 3, tickwidth: 1, tickcolor: AXIS_COLOR},
    showline: true, linecolor: AXIS_COLOR, linewidth: 1.2,
    showgrid: false, zeroline: false, showticklabels: false
  };
}

const leftX = [px(48), px(350)];
const rightX = [px(443.3), px(745.7)];
const topY = [py(247.7), py(27)];
const botY = [py(562.3), py(341.7)];

const annotations = [];
const shapes = [];
function label(text, x, y, size, opts) {
  annotations.push(Object.assign({
    xref: 'paper', yref: 'paper', x: px(x), y: py(y), text, showarrow: false,
    xanchor: 'center', yanchor: 'middle', font: {family: FONT, size, color: '#222'}
  }, opts || {}));
}

// panel letters
label('a)', 0, 16, 20, {xanchor: 'left'});
label('b)', 396, 14, 20, {xanchor: 'left'});
label('c)', 1, 326, 20, {xanchor: 'left'});
label('d)', 395, 328, 20, {xanchor: 'left'});

// axis titles
label('<i>k</i> / Å<sup>-1</sup>', 199, 279, 14);
label('<i>k</i> / Å<sup>-1</sup>', 199, 593, 14);
label('<i>r</i> / Å', 594.5, 279, 14);
label('<i>r</i> / Å', 594.5, 593, 14);
label('k<sup>2</sup> χ(k)', 25, 137, 14, {textangle: -90});
label('k<sup>2</sup> χ(k)', 25, 448, 14, {textangle: -90});
label('FT k<sup>2</sup> χ(k)', 421, 137, 14, {textangle: -90});
label('FT k<sup>2</sup> χ(k)', 421, 448, 14, {textangle: -90});

// temperature keys
function key(names, lineX0, lineX1, textX, rows) {
  names.forEach((name, i) => {
    shapes.push({type: 'line', xref: 'paper', yref: 'paper',
      x0: px(lineX0), x1: px(lineX1), y0: py(rows[i]), y1: py(rows[i]),
      line: {color: LINE_COLORS[i], width: 1.5}});
    label(name, textX, rows[i] + 0.5, 14, {xanchor: 'left'});
  });
}
key(labelsTop, 673, 702, 703, [34.3, 49.6, 64.8, 80]);
key(labelsBottom, 678, 707, 708, [344.5, 360, 375.5, 391]);

const layout = {
  width: W, height: H,
  margin: {l: 0, r: 0, t: 0, b: 0},
  paper_bgcolor: '#ffffff', plot_bgcolor: '#ffffff',
  showlegend: false,
  font: {family: FONT},
  xaxis: xAxis(leftX, [-0.39, 11.005], 'y'),
  yaxis: yAxis(topY, [-0.49, 8.01], 'x', 0, 1, 0.5),
  xaxis2: xAxis(rightX, [-0.003, 6.003], 'y2'),
  yaxis2: yAxis(topY, [-0.95, 20.02], 'x2', 0, 2, 1),
  xaxis3: xAxis(leftX, [-0.39, 11.005], 'y3'),
  yaxis3: yAxis(botY, [-0.5, 8.5], 'x3', 1, 2, 1),
  xaxis4: xAxis(rightX, [-0.003, 6.003], 'y4'),
  yaxis4: yAxis(botY, [-0.39, 10.02], 'x4', 0, 2, 1),
  annotations, shapes
};

Plotly.newPlot('chart', traces, layout, {displayModeBar: false, staticPlot: true});
</script>
</body>
</html>
